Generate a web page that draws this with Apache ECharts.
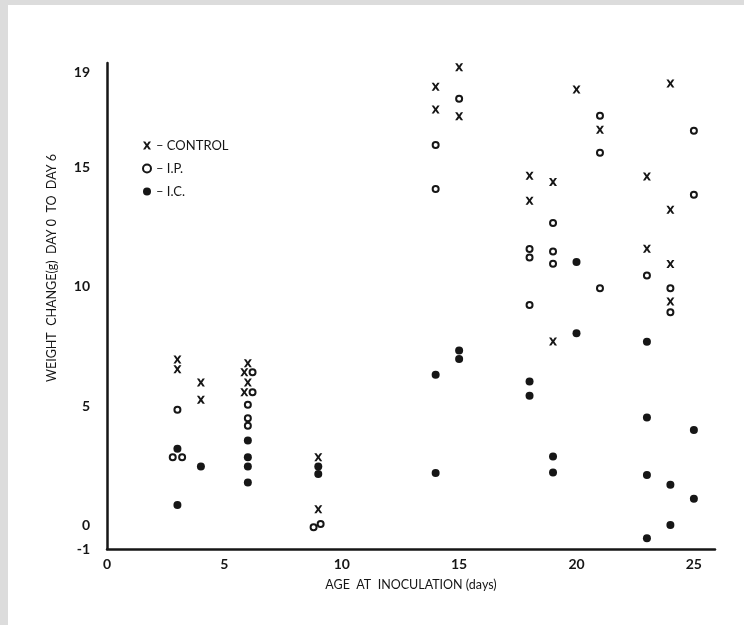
<!DOCTYPE html>
<html>
<head>
<meta charset="utf-8">
<script src="https://cdn.jsdelivr.net/npm/echarts@6/dist/echarts.min.js"></script>
<style>
html,body{margin:0;padding:0;background:#fff;}
#c{width:744px;height:625px;}
</style>
</head>
<body>
<div id="c"></div>
<script>
// Data: [age at inoculation (days), weight change (g)]
const control = [
  [3, 6.95], [3, 6.55],
  [4, 5.99], [4, 5.26],
  [6, 6.80], [5.85, 6.42], [6, 5.99], [5.85, 5.58],
  [9, 2.85], [9, 0.67],
  [14, 18.40], [14, 17.45],
  [15, 19.22], [15, 17.16],
  [18, 14.67], [18, 13.62],
  [19, 14.40], [19, 7.71],
  [20, 18.29],
  [21, 16.60],
  [23, 14.64], [23, 11.60],
  [24, 18.54], [24, 13.24], [24, 10.96], [24, 9.39]
];
const ip = [
  [3, 4.84], [2.8, 2.85], [3.2, 2.85],
  [6.2, 6.42], [6.2, 5.58], [6, 5.05], [6, 4.49], [6, 4.17],
  [8.8, -0.09], [9.1, 0.05],
  [14, 15.96], [14, 14.11],
  [15, 17.90],
  [18, 11.59], [18, 11.24], [18, 9.24],
  [19, 12.68], [19, 11.49], [19, 10.97],
  [21, 17.19], [21, 15.63], [21, 9.95],
  [23, 10.48],
  [24, 9.95], [24, 8.94],
  [25, 16.56], [25, 13.87]
];
const ic = [
  [3, 3.21], [3, 0.85],
  [4, 2.46],
  [6, 3.55], [6, 2.85], [6, 2.46], [6, 1.79],
  [9, 2.46], [9, 2.15],
  [14, 6.31], [14, 2.19],
  [15, 7.33], [15, 6.98],
  [18, 6.03], [18, 5.43],
  [19, 2.88], [19, 2.21],
  [20, 11.05], [20, 8.06],
  [23, 7.70], [23, 4.52], [23, 2.11], [23, -0.55],
  [24, 1.70], [24, 0.01],
  [25, 3.99], [25, 1.11]
];
const xTicks = [0, 5, 10, 15, 20, 25];
const yTicks = [-1, 0, 5, 10, 15, 19];
const seriesNames = ['CONTROL', 'I.P.', 'I.C.'];

const ink = '#161616';
const font = 'Lato, "DejaVu Sans", sans-serif';
const xPath = 'path://M0,0 L2.8,0 L5,3.1 L7.2,0 L10,0 L6.6,5 L10,10 L7.2,10 L5,6.9 L2.8,10 L0,10 L3.4,5 Z';

const chart = echarts.init(document.getElementById('c'), null, {renderer: 'canvas'});
chart.setOption({
  backgroundColor: '#ffffff',
  animation: false,
  grid: {left: 107, right: 29, top: 63, bottom: 76},
  legend: {
    orient: 'vertical',
    left: 137,
    top: 134,
    itemGap: 10,
    itemWidth: 8,
    itemHeight: 8,
    selectedMode: false,
    formatter: n => '\u2013 ' + n,
    textStyle: {fontFamily: font, fontSize: 13, color: ink},
    data: [
      {name: seriesNames[0], icon: xPath},
      {name: seriesNames[1], icon: 'emptyCircle'},
      {name: seriesNames[2], icon: 'circle'}
    ]
  },
  xAxis: {
    type: 'value',
    min: 0,
    max: 25.9,
    splitLine: {show: false},
    axisTick: {show: false},
    axisLine: {onZero: false, lineStyle: {color: ink, width: 2.5}},
    axisLabel: {
      customValues: xTicks,
      margin: 8,
      fontFamily: font, fontSize: 14, fontWeight: 'bold', color: ink
    },
    name: 'AGE  AT  INOCULATION (days)',
    nameLocation: 'middle',
    nameGap: 29,
    nameTextStyle: {fontFamily: font, fontSize: 12.5, color: ink}
  },
  yAxis: {
    type: 'value',
    min: -1,
    max: 19.4,
    splitLine: {show: false},
    axisTick: {show: false},
    axisLine: {onZero: false, lineStyle: {color: ink, width: 2.5}},
    axisLabel: {
      customValues: yTicks,
      margin: 17,
      fontFamily: font, fontSize: 14, fontWeight: 'bold', color: ink
    }
  },
  graphic: [
    {type: 'rect', shape: {x: 0, y: 0, width: 744, height: 5}, style: {fill: '#dcdcdc'}, silent: true},
    {type: 'rect', shape: {x: 0, y: 0, width: 8, height: 625}, style: {fill: '#dcdcdc'}, silent: true},
    {
      type: 'text',
      x: 52, y: 268,
      rotation: Math.PI / 2,
      style: {
        text: 'WEIGHT  CHANGE(g)  DAY 0  TO  DAY 6',
        fontFamily: font, fontSize: 12.5, fill: ink,
        align: 'center', verticalAlign: 'middle'
      }
    }
  ],
  series: [
    {
      name: seriesNames[0], type: 'scatter', data: control,
      symbol: xPath, symbolSize: 8,
      itemStyle: {color: ink, opacity: 1}
    },
    {
      name: seriesNames[1], type: 'scatter', data: ip,
      symbol: 'emptyCircle', symbolSize: 6,
      itemStyle: {color: ink, borderColor: ink, borderWidth: 1.8, opacity: 1}
    },
    {
      name: seriesNames[2], type: 'scatter', data: ic,
      symbol: 'circle', symbolSize: 8,
      itemStyle: {color: ink, opacity: 1}
    }
  ]
});
</script>
</body>
</html>
